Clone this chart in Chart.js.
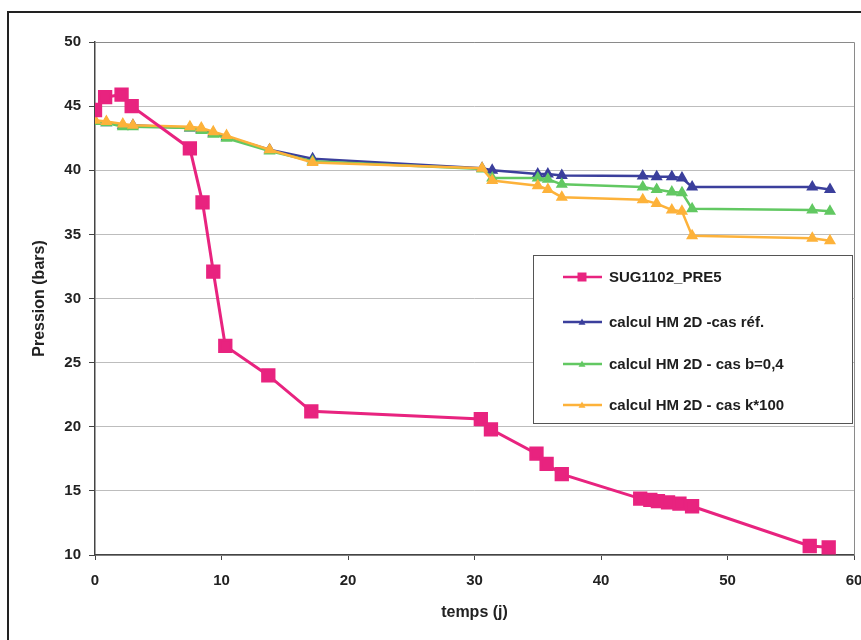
<!DOCTYPE html>
<html>
<head>
<meta charset="utf-8">
<script src="https://cdn.jsdelivr.net/npm/chart.js@4.4.0/dist/chart.umd.min.js"></script>
<style>
  html, body { margin: 0; padding: 0; background: #fff; }
</style>
</head>
<body>
<canvas id="myChartPression" width="861" height="640"></canvas>
<script>
const COULEURS = {
    rose: '#E8237F',
    bleu: '#3B3F9C',
    vert: '#62C862',
    orange: '#FDB23A'
};

// mesures (carrés roses)
const joursMesure = [0, 0.8, 2.1, 2.9, 7.5, 8.5, 9.35, 10.3, 13.7, 17.1, 30.5, 31.3, 34.9, 35.7, 36.9,
    43.1, 43.9, 44.5, 45.3, 46.2, 47.2, 56.5, 58.0];
const pressionMesure = [44.7, 45.7, 45.9, 45.0, 41.7, 37.5, 32.1, 26.3, 24.0, 21.2, 20.6, 19.8, 17.9, 17.1, 16.3,
    14.4, 14.3, 14.2, 14.1, 14.0, 13.8, 10.7, 10.6];

// calculs HM 2D (triangles)
const joursCalcul = [0, 0.9, 2.2, 3.0, 7.5, 8.4, 9.35, 10.4, 13.8, 17.2, 30.6, 31.4, 35.0, 35.8, 36.9,
    43.3, 44.4, 45.6, 46.4, 47.2, 56.7, 58.1];
const pressionRef = [43.8, 43.7, 43.5, 43.5, 43.3, 43.2, 42.9, 42.6, 41.6, 40.9, 40.15, 40.0, 39.7, 39.7, 39.6,
    39.55, 39.5, 39.5, 39.4, 38.7, 38.7, 38.5];
const pressionB04 = [43.8, 43.7, 43.4, 43.4, 43.3, 43.1, 42.8, 42.5, 41.5, 40.7, 40.1, 39.4, 39.4, 39.3, 38.9,
    38.7, 38.5, 38.3, 38.25, 37.0, 36.9, 36.8];
const pressionK100 = [43.9, 43.8, 43.6, 43.5, 43.4, 43.3, 43.0, 42.7, 41.6, 40.6, 40.15, 39.2, 38.8, 38.5, 37.9,
    37.7, 37.4, 36.9, 36.8, 34.9, 34.7, 34.5];

const etiquettes = ['SUG1102_PRE5', 'calcul HM 2D -cas réf.', 'calcul HM 2D - cas b=0,4', 'calcul HM 2D - cas k*100'];

function points(xs, ys) {
    return xs.map((x, i) => ({ x: x, y: ys[i] }));
}

const POLICE = '"Liberation Sans", Arial, sans-serif';

function dessineMarqueur(ctx, style, x, y, r, couleur) {
    ctx.fillStyle = couleur;
    ctx.beginPath();
    if (style === 'rect') {
        ctx.rect(x - r, y - r, 2 * r, 2 * r);
    } else {
        ctx.moveTo(x, y - r);
        ctx.lineTo(x + r, y + r * 0.8);
        ctx.lineTo(x - r, y + r * 0.8);
        ctx.closePath();
    }
    ctx.fill();
}

// cadre du graphique, bordure de la zone de tracé et légende dans la zone
const cadrePlugin = {
    id: 'cadre',
    beforeDatasetsDraw(chart) {
        const ctx = chart.ctx;
        const a = chart.chartArea;
        ctx.save();
        ctx.strokeStyle = '#8a8a8a';
        ctx.lineWidth = 1;
        ctx.beginPath();
        ctx.moveTo(a.left, a.top + 0.5);
        ctx.lineTo(a.right + 0.5, a.top + 0.5);
        ctx.lineTo(a.right + 0.5, a.bottom);
        ctx.stroke();
        ctx.restore();
    },
    afterDraw(chart) {
        const ctx = chart.ctx;
        ctx.save();
        // cadre extérieur
        ctx.strokeStyle = '#222';
        ctx.lineWidth = 2;
        ctx.beginPath();
        ctx.moveTo(8, 640);
        ctx.lineTo(8, 12);
        ctx.lineTo(861, 12);
        ctx.stroke();

        // légende
        const bx = 533, by = 255, bw = 319, bh = 168;
        ctx.fillStyle = '#fff';
        ctx.fillRect(bx, by, bw, bh);
        ctx.strokeStyle = '#555';
        ctx.lineWidth = 1;
        ctx.strokeRect(bx + 0.5, by + 0.5, bw, bh);
        const lignes = [277, 322, 364, 405];
        chart.data.datasets.forEach((ds, i) => {
            const y = lignes[i];
            ctx.strokeStyle = ds.borderColor;
            ctx.lineWidth = 2.5;
            ctx.beginPath();
            ctx.moveTo(563, y);
            ctx.lineTo(602, y);
            ctx.stroke();
            if (ds.pointStyle === 'rect') {
                dessineMarqueur(ctx, 'rect', 582, y, 4.5, ds.borderColor);
            } else {
                dessineMarqueur(ctx, 'triangle', 582, y, 3.5, ds.borderColor);
            }
            ctx.fillStyle = '#1e1e1e';
            ctx.font = 'bold 15px ' + POLICE;
            ctx.textBaseline = 'middle';
            ctx.textAlign = 'left';
            ctx.fillText(ds.label, 609, y + 1);
        });
        ctx.restore();
    }
};

const ctxPression = document.getElementById('myChartPression').getContext('2d');

let graphePression = new Chart(ctxPression, {
    type: 'line',
    data: {
        datasets: [{
            label: etiquettes[0],
            data: points(joursMesure, pressionMesure),
            borderColor: COULEURS.rose,
            backgroundColor: COULEURS.rose,
            borderWidth: 3,
            pointStyle: 'rect',
            pointRadius: 8,
            tension: 0,
            order: 0
        }, {
            label: etiquettes[1],
            data: points(joursCalcul, pressionRef),
            borderColor: COULEURS.bleu,
            backgroundColor: COULEURS.bleu,
            borderWidth: 2.5,
            pointStyle: 'triangle',
            pointRadius: 4.5,
            tension: 0,
            order: 3
        }, {
            label: etiquettes[2],
            data: points(joursCalcul, pressionB04),
            borderColor: COULEURS.vert,
            backgroundColor: COULEURS.vert,
            borderWidth: 2.5,
            pointStyle: 'triangle',
            pointRadius: 4.5,
            tension: 0,
            order: 2
        }, {
            label: etiquettes[3],
            data: points(joursCalcul, pressionK100),
            borderColor: COULEURS.orange,
            backgroundColor: COULEURS.orange,
            borderWidth: 2.5,
            pointStyle: 'triangle',
            pointRadius: 4.5,
            tension: 0,
            order: 1
        }]
    },
    options: {
        responsive: false,
        animation: false,
        layout: {
            autoPadding: false,
            padding: { left: 10, top: 42, right: 7, bottom: 0 }
        },
        plugins: {
            legend: { display: false },
            tooltip: { enabled: false }
        },
        scales: {
            x: {
                type: 'linear',
                min: 0,
                max: 60,
                afterFit(scale) {
                    scale.height = 85;
                    // le "60" peut déborder à droite comme sur l'original
                    scale.paddingLeft = 0;
                    scale.paddingRight = 0;
                },
                border: { display: true, color: '#444', width: 1.5 },
                grid: { drawOnChartArea: false, color: '#444', tickLength: 5 },
                ticks: {
                    stepSize: 10,
                    padding: 12,
                    color: '#222',
                    font: { family: POLICE, size: 15, weight: 'bold' }
                },
                title: {
                    display: true,
                    text: 'temps (j)',
                    color: '#222',
                    font: { family: POLICE, size: 16, weight: 'bold' },
                    padding: { top: 0, bottom: 18 }
                }
            },
            y: {
                type: 'linear',
                min: 10,
                max: 50,
                afterFit(scale) { scale.width = 85; },
                border: { display: true, color: '#444', width: 1.5 },
                grid: { color: '#bdbdbd', tickColor: '#444', tickLength: 6 },
                ticks: {
                    stepSize: 5,
                    padding: 8,
                    color: '#222',
                    font: { family: POLICE, size: 15, weight: 'bold' }
                },
                title: {
                    display: true,
                    text: 'Pression (bars)',
                    color: '#222',
                    font: { family: POLICE, size: 16, weight: 'bold' },
                    padding: { top: 20, bottom: 0 }
                }
            }
        }
    },
    plugins: [cadrePlugin]
});
</script>
</body>
</html>
